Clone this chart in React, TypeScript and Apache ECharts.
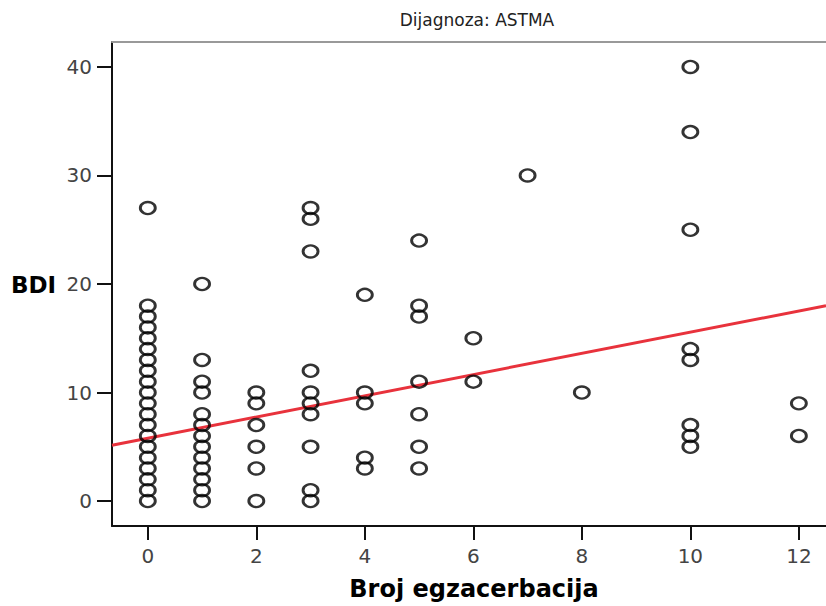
import React, { useEffect, useRef } from "react";
import * as echarts from "echarts";

// Number of exacerbations (x) and BDI score (y) per patient, asthma group
const xValues: number[] = [
  0, 0, 0, 0, 0, 0, 0, 0, 0, 0, 0, 0, 0, 0, 0, 0, 0, 0, 0, 0,
  1, 1, 1, 1, 1, 1, 1, 1, 1, 1, 1, 1, 1,
  2, 2, 2, 2, 2, 2,
  3, 3, 3, 3, 3, 3, 3, 3, 3, 3,
  4, 4, 4, 4, 4,
  5, 5, 5, 5, 5, 5, 5,
  6, 6,
  7,
  8,
  10, 10, 10, 10, 10, 10, 10, 10,
  12, 12,
];
const bdiValues: number[] = [
  0, 1, 2, 3, 4, 5, 6, 7, 8, 9, 10, 11, 12, 13, 14, 15, 16, 17, 18, 27,
  0, 1, 2, 3, 4, 5, 6, 7, 8, 10, 11, 13, 20,
  0, 3, 5, 7, 9, 10,
  0, 1, 5, 8, 9, 10, 12, 23, 26, 27,
  3, 4, 9, 10, 19,
  3, 5, 8, 11, 17, 18, 24,
  11, 15,
  30,
  10,
  5, 6, 7, 13, 14, 25, 34, 40,
  6, 9,
];

// Linear fit line: BDI = intercept + slope * exacerbations
const fitIntercept = 5.79;
const fitSlope = 0.977;

const xTicks: number[] = [0, 2, 4, 6, 8, 10, 12];
const yTicks: number[] = [0, 10, 20, 30, 40];

const X_MIN = -0.66;
const X_MAX = 12.5;
const Y_MIN = -2.3;
const Y_MAX = 42.3;

export default function App() {
  const ref = useRef<HTMLDivElement>(null);

  useEffect(() => {
    if (!ref.current) return;
    const chart = echarts.init(ref.current, undefined, { renderer: "svg" });

    const points = xValues.map((x, i) => [x, bdiValues[i]]);
    const fitLine = [
      [X_MIN, fitIntercept + fitSlope * X_MIN],
      [X_MAX, fitIntercept + fitSlope * X_MAX],
    ];

    const font = "DejaVu Sans";

    chart.setOption({
      animation: false,
      backgroundColor: "#ffffff",
      title: {
        text: "Dijagnoza: ASTMA",
        left: 472,
        top: 6,
        textAlign: "center",
        textStyle: {
          fontFamily: font,
          fontSize: 17,
          fontWeight: "normal",
          color: "#222",
        },
      },
      grid: { left: 112, top: 42, right: 0, bottom: 78 },
      xAxis: [
        {
          type: "value",
          min: X_MIN,
          max: X_MAX,
          name: "Broj egzacerbacija",
          nameLocation: "middle",
          nameGap: 51,
          nameTextStyle: {
            fontFamily: font,
            fontSize: 24,
            fontWeight: "bold",
            color: "#000",
            padding: [0, 0, 0, 10],
          },
          splitLine: { show: false },
          axisLine: { show: true, onZero: false, lineStyle: { color: "#111", width: 2 } },
          axisTick: {
            show: true,
            length: 14,
            customValues: xTicks,
            lineStyle: { color: "#111", width: 2 },
          },
          axisLabel: {
            customValues: xTicks,
            margin: 20,
            fontFamily: font,
            fontSize: 20,
            color: "#444",
          },
        },
        {
          type: "value",
          position: "top",
          min: X_MIN,
          max: X_MAX,
          splitLine: { show: false },
          axisLine: { show: true, onZero: false, lineStyle: { color: "#999", width: 2 } },
          axisTick: { show: false },
          axisLabel: { show: false },
        },
      ],
      yAxis: {
        type: "value",
        min: Y_MIN,
        max: Y_MAX,
        splitLine: { show: false },
        axisLine: { show: true, onZero: false, lineStyle: { color: "#111", width: 2 } },
        axisTick: {
          show: true,
          length: 15,
          customValues: yTicks,
          lineStyle: { color: "#111", width: 2 },
        },
        axisLabel: {
          customValues: yTicks,
          margin: 20,
          fontFamily: font,
          fontSize: 20,
          color: "#444",
        },
      },
      graphic: [
        {
          type: "text",
          left: 11,
          top: 273,
          style: {
            text: "BDI",
            fontFamily: font,
            fontSize: 23,
            fontWeight: "bold",
            fill: "#000",
          },
        },
      ],
      series: [
        {
          type: "line",
          data: fitLine,
          xAxisIndex: 0,
          symbol: "none",
          lineStyle: { color: "#e8323c", width: 3 },
          z: 2,
          silent: true,
        },
        {
          type: "scatter",
          data: points,
          xAxisIndex: 0,
          symbol: "circle",
          symbolSize: [15, 12],
          itemStyle: {
            color: "rgba(0,0,0,0)",
            borderColor: "#000",
            borderWidth: 2.6,
          },
          z: 3,
        },
      ],
    });

    return () => chart.dispose();
  }, []);

  return (
    <div
      ref={ref}
      style={{ position: "fixed", left: 0, top: 0, width: 826, height: 606 }}
    />
  );
}
